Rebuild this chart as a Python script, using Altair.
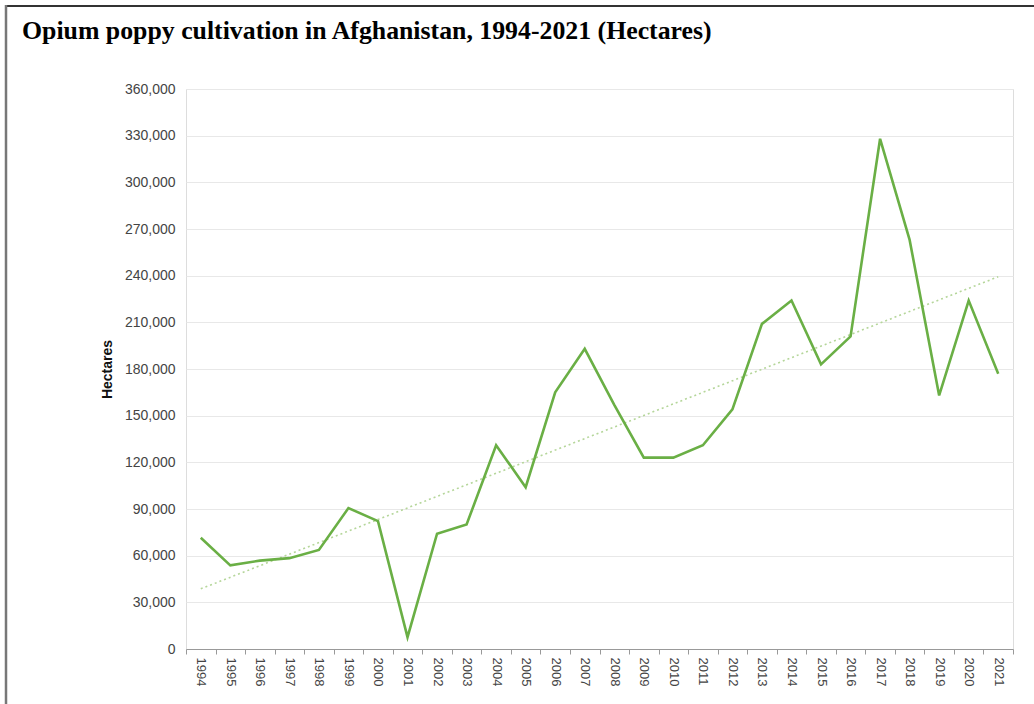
import altair as alt
import pandas as pd

years = [str(y) for y in range(1994, 2022)]
hectares = [71470, 53759, 56824, 58416, 63674, 90583, 82171, 7606, 74100, 80000,
            131000, 104000, 165000, 193000, 157000, 123000, 123000, 131000, 154000,
            209000, 224000, 183000, 201000, 328000, 263000, 163000, 224000, 177000]
y_ticks = list(range(0, 360001, 30000))

df = pd.DataFrame({"year": years, "value": hectares})

W, H = 827, 560
xscale = alt.Scale(type="band", domain=years, paddingInner=0, paddingOuter=0)
yscale = alt.Scale(domain=[0, 360000], nice=False)

xaxis = alt.Axis(title=None, labelAngle=90, labelAlign="left", labelBaseline="middle",
                 labelFont="Liberation Sans", labelFontSize=13, labelColor="#444444",
                 tickBand="extent", ticks=True, tickSize=5, tickColor="#999999",
                 domainColor="#999999", domainWidth=1, labelPadding=3,
                 grid=False, gridOpacity=0)
yaxis = alt.Axis(title="Hectares", values=y_ticks, format=",.0f",
                 labelFont="Liberation Sans", labelFontSize=14, labelColor="#444444",
                 labelPadding=11, domain=False, ticks=False,
                 grid=True, gridColor="#e8e8e8", gridWidth=1,
                 titleFont="Liberation Sans", titleFontSize=14, titleFontWeight="bold",
                 titleColor="#111111", titlePadding=10)

base = alt.Chart(df)

line = base.mark_line(color="#6aaf45", strokeWidth=2.6, strokeJoin="miter").encode(
    x=alt.X("year:O", scale=xscale, bandPosition=0.5, axis=xaxis),
    y=alt.Y("value:Q", scale=yscale, axis=yaxis),
)

trend = base.transform_calculate(yn="toNumber(datum.year)").transform_regression(
    "yn", "value", method="linear"
).transform_calculate(year="toString(datum.yn)").mark_line(
    color="#b5d69a", strokeWidth=1.6, strokeDash=[2, 3]
).encode(
    x=alt.X("year:O", scale=xscale, bandPosition=0.5, axis=xaxis),
    y=alt.Y("value:Q", scale=yscale, axis=yaxis),
)

border_top = alt.Chart(df.head(1)).mark_rule(color="#333333", strokeWidth=2).encode(
    x=alt.value(-181), x2=alt.value(W + 30), y=alt.value(-83)
)
border_left = alt.Chart(df.head(1)).mark_rule(color="#777777", strokeWidth=2.5).encode(
    x=alt.value(-180), y=alt.value(-84), y2=alt.value(H + 60)
)

chart = alt.layer(trend, line, border_top, border_left).properties(
    width=W, height=H,
    autosize=alt.AutoSizeParams(type="none"),
    padding={"left": 186, "top": 89, "right": 21, "bottom": 55},
    title=alt.TitleParams(
        "Opium poppy cultivation in Afghanistan, 1994-2021 (Hectares)",
        font="Liberation Serif", fontSize=25.8, fontWeight="bold", color="#000000",
        anchor="start", frame="group", dx=-164, offset=-61, baseline="alphabetic",
    ),
).configure_view(strokeWidth=0).configure(background="white").configure_axisX(
    gridOpacity=0
)

chart.save("out.html", embed_options={"renderer": "svg", "actions": False})
